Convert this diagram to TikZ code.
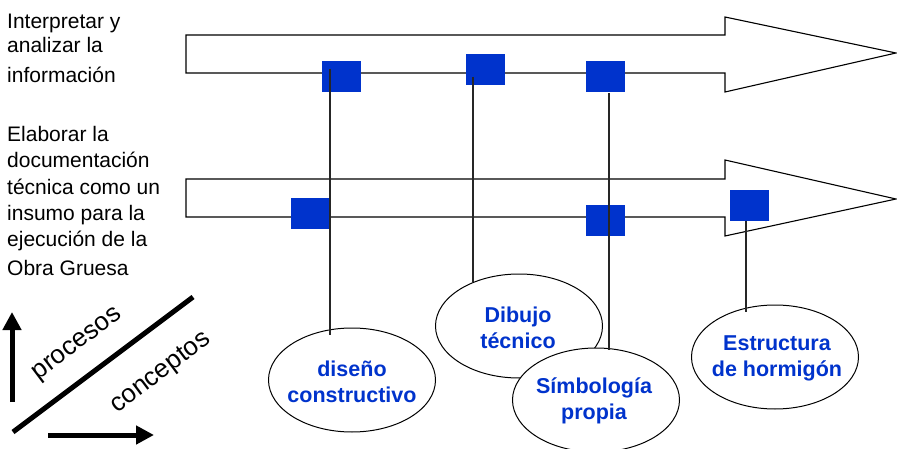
\documentclass[tikz,border=0pt]{standalone}
\usepackage{fontspec}
\setmainfont{Liberation Sans}
\usetikzlibrary{shapes.geometric,arrows.meta}
\definecolor{sqblue}{HTML}{0033CC}
\definecolor{txtblue}{HTML}{0033CC}
\begin{document}
\begin{tikzpicture}[x=1pt,y=-1pt,
  bigarrow/.style={draw=black, line width=1.1pt, fill=white, line join=miter},
  sqbox/.style={fill=sqblue, draw=none, minimum width=39pt, minimum height=31pt, inner sep=0pt, anchor=north west},
  oval/.style={ellipse, draw=black, line width=1pt, fill=white, minimum width=167pt, minimum height=104pt, inner sep=0pt},
  ovaltext/.style={inner sep=0pt, align=center, text=txtblue, font=\fontsize{21.5}{26}\selectfont\bfseries},
  leftline/.style={anchor=base west, inner sep=0pt, font=\fontsize{21}{24}\selectfont},
  link/.style={draw=black!85, line width=1.2pt},
  fatline/.style={line width=5pt},
  fatarrow/.style={line width=5pt, -{Triangle[length=18pt,width=18pt]}},
  diag/.style={font=\fontsize{26}{30}\selectfont, rotate=37, inner sep=0pt}
]
\useasboundingbox (0,0) rectangle (897,449);

% big arrows
\draw[bigarrow] (186,35) -- (725,35) -- (725,17) -- (896,53) -- (725,92) -- (725,73) -- (186,73) -- cycle;
\draw[bigarrow] (186,179) -- (725,179) -- (725,160) -- (896,199) -- (725,236) -- (725,217) -- (186,217) -- cycle;

% squares
\node[sqbox] (s1) at (322,61) {};
\node[sqbox] (s2) at (466,54) {};
\node[sqbox] (s3) at (586,61) {};
\node[sqbox] (s4) at (291,198) {};
\node[sqbox] (s5) at (586,205) {};
\node[sqbox] (s6) at (730,190) {};

% ellipses
\node[oval] (e1) at (352,380) {};
\node[oval] (e2) at (519,326) {};
\node[oval] (e3) at (596,400) {};
\node[oval] (e4) at (775,357) {};

% connector end points
\coordinate (a1) at (330,69);  \coordinate (b1) at (330,335);
\coordinate (a2) at (473,77);  \coordinate (b2) at (473,282);
\coordinate (a3) at (609,93);  \coordinate (b3) at (609,350);
\coordinate (a4) at (746,221); \coordinate (b4) at (746,312);
\draw[link] (a1) -- (b1);
\draw[link] (a2) -- (b2);
\draw[link] (a3) -- (b3);
\draw[link] (a4) -- (b4);

% ellipse texts
\node[ovaltext] (t1) at (352,382) {diseño\\constructivo};
\node[ovaltext] (t2) at (518,328) {Dibujo\\técnico};
\node[ovaltext] (t3) at (594,401) {Símbología\\propia};
\node[ovaltext] (t4) at (777,358) {Estructura\\de hormigón};

% left texts
\node[leftline] (l1) at (7,29) {Interpretar y};
\node[leftline] (l2) at (7,53) {analizar la};
\node[leftline] (l3) at (7,83) {información};
\node[leftline] (m1) at (7,142) {Elaborar la};
\node[leftline] (m2) at (7,168) {documentación};
\node[leftline] (m3) at (7,195) {técnica como un};
\node[leftline] (m4) at (7,221) {insumo para la};
\node[leftline] (m5) at (7,247) {ejecución de la};
\node[leftline] (m6) at (7,275) {Obra Gruesa};

% axes legend
\coordinate (d1) at (13,432); \coordinate (d2) at (193,297);
\draw[fatline] (d1) -- (d2);
\coordinate (u1) at (12,402); \coordinate (u2) at (12,312);
\draw[fatarrow] (u1) -- (u2);
\coordinate (r1) at (48,435); \coordinate (r2) at (154,435);
\draw[fatarrow] (r1) -- (r2);
\node[diag] (proc) at (78,345) {procesos};
\node[diag] (conc) at (161,373) {conceptos};
\end{tikzpicture}
\end{document}
